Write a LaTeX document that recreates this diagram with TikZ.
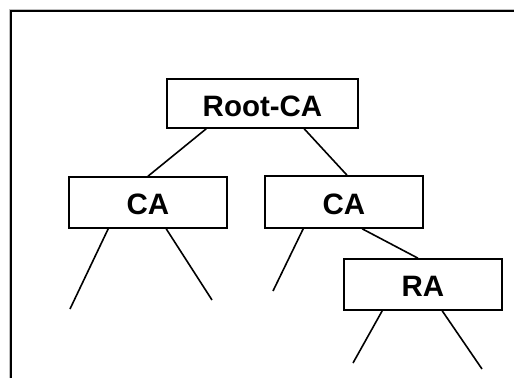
\documentclass[tikz,border=0pt]{standalone}
\usepackage{fontspec}
\setmainfont{Liberation Sans}
\begin{document}
\begin{tikzpicture}[x=1pt,y=-1pt,
  boxnode/.style={draw=black,line width=1.6pt,fill=white,rectangle,inner sep=0pt,
    minimum height=50pt},
  boxtext/.style={inner sep=0pt,font=\fontsize{29.5}{30}\selectfont\bfseries},
  link/.style={draw=black,line width=1.6pt},
  frameline/.style={draw=black,line width=2pt},
  shadowline/.style={draw=black!25,line width=0.8pt}]
\useasboundingbox (0,0) rectangle (514,378);
% page frame (top and left edges)
\draw[shadowline] (9.3,378) -- (9.3,9.3) -- (514,9.3);
\draw[frameline] (11,378) -- (11,11) -- (514,11);

% tree nodes
\node[boxnode,minimum width=191pt,minimum height=49pt] (root) at (262.5,103.5) {};
\node[boxnode,minimum width=158pt,minimum height=51pt] (caL) at (148,202.5) {};
\node[boxnode,minimum width=158pt,minimum height=52pt] (caR) at (344,202) {};
\node[boxnode,minimum width=158pt,minimum height=51pt] (ra) at (423,284.5) {};

% labels, baseline set slightly below the box centres
\node[boxtext,anchor=base] (rootlabel) at ([yshift=-12.5pt]root.center) {Root-CA};
\node[boxtext,anchor=base] (caLlabel) at ([yshift=-12pt]caL.center) {CA};
\node[boxtext,anchor=base] (caRlabel) at ([yshift=-12pt]caR.center) {CA};
\node[boxtext,anchor=base] (ralabel) at ([yshift=-12pt]ra.center) {RA};

% free ends of the open branches
\coordinate (l1) at (70,309);
\coordinate (l2) at (212,300);
\coordinate (r1) at (273,291);
\coordinate (a1) at (353,363);
\coordinate (a2) at (482,369);

% branches
\draw[link] ([xshift=40pt]root.south west) -- (caL.north);
\draw[link] ([xshift=138pt]root.south west) -- ([xshift=3pt]caR.north);
\draw[link] ([xshift=40pt]caL.south west) -- (l1);
\draw[link] ([xshift=98pt]caL.south west) -- (l2);
\draw[link] ([xshift=39pt]caR.south west) -- (r1);
\draw[link] ([xshift=98pt]caR.south west) -- ([xshift=-5pt]ra.north);
\draw[link] ([xshift=39pt]ra.south west) -- (a1);
\draw[link] ([xshift=99pt]ra.south west) -- (a2);
\end{tikzpicture}
\end{document}
